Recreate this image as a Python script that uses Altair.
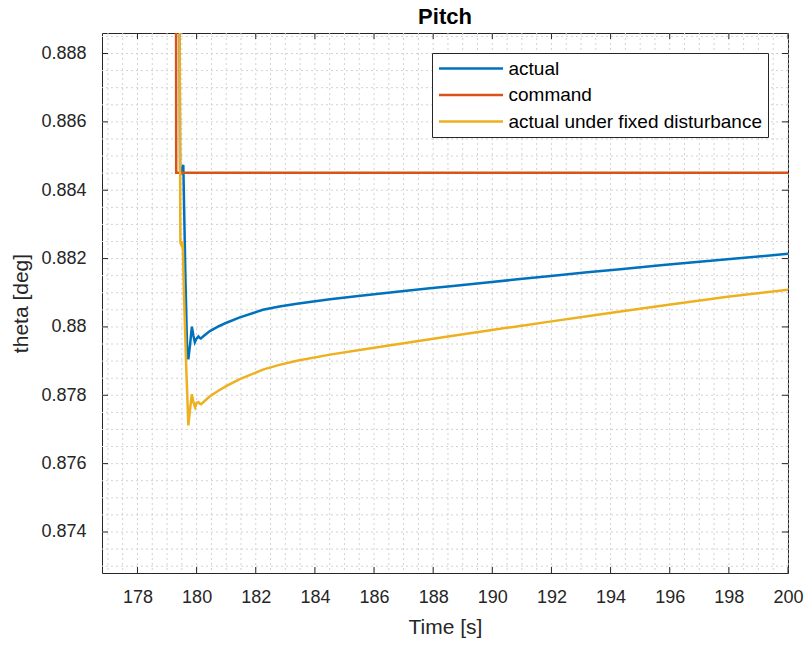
import altair as alt
import pandas as pd

# ---------------- data ----------------
series_names = ["actual", "command", "actual under fixed disturbance"]
series_colors = ["#0072BD", "#D95319", "#EDB120"]

actual_t = [179.40, 179.44, 179.47, 179.55, 179.62, 179.68, 179.72, 179.78, 179.84,
            179.89, 179.94, 179.99, 180.06, 180.10, 180.14, 180.30, 180.45, 180.75,
            181.03, 181.46, 182.24, 182.80, 183.39, 184.51, 185.62, 186.78, 187.89,
            188.67, 189.82, 190.94, 192.06, 193.21, 194.33, 195.78, 197.95, 200.00]
actual_v = [0.89500, 0.88460, 0.88452, 0.88474, 0.88150, 0.87930, 0.87905, 0.87950, 0.88001,
            0.87975, 0.87955, 0.87965, 0.87972, 0.87968, 0.87966, 0.87978, 0.87988, 0.88002,
            0.88013, 0.88028, 0.88050, 0.88060, 0.88068, 0.88081, 0.88092, 0.88103, 0.88113,
            0.88120, 0.88130, 0.88140, 0.88150, 0.88160, 0.88169, 0.88181, 0.88198, 0.88214]

command_t = [179.30, 179.31, 200.00]
command_v = [0.89500, 0.88451, 0.88451]

disturbed_t = [179.40, 179.45, 179.48, 179.53, 179.57, 179.65, 179.72, 179.78, 179.84,
               179.89, 179.95, 180.00, 180.06, 180.10, 180.15, 180.45, 180.75, 181.03,
               181.46, 182.24, 182.80, 183.39, 184.51, 185.62, 186.78, 187.89, 188.67,
               189.82, 190.94, 192.06, 193.21, 194.33, 195.78, 197.95, 200.00]
disturbed_v = [0.89500, 0.88246, 0.88240, 0.88250, 0.88100, 0.87880, 0.87712, 0.87760, 0.87803,
               0.87780, 0.87765, 0.87778, 0.87780, 0.87776, 0.87774, 0.87797, 0.87814, 0.87828,
               0.87847, 0.87875, 0.87889, 0.87901, 0.87919, 0.87934, 0.87949, 0.87964, 0.87974,
               0.87989, 0.88003, 0.88017, 0.88031, 0.88045, 0.88063, 0.88088, 0.88109]

x_ticks = [178, 180, 182, 184, 186, 188, 190, 192, 194, 196, 198, 200]
y_ticks = [0.874, 0.876, 0.878, 0.880, 0.882, 0.884, 0.886, 0.888]
x_grid = [177 + 0.5 * i for i in range(47)]
y_grid = [round(0.873 + 0.0005 * i, 4) for i in range(32)]

x_domain = [176.8, 200.0]
y_domain = [0.8728, 0.8886]

FONT = "Liberation Sans"
TXT = "#262626"

# ---------------- frames ----------------
rows = []
for name, ts, vs in [(series_names[0], actual_t, actual_v),
                     (series_names[1], command_t, command_v),
                     (series_names[2], disturbed_t, disturbed_v)]:
    for i, (t, v) in enumerate(zip(ts, vs)):
        rows.append({"series": name, "t": t, "v": v, "idx": i})
df = pd.DataFrame(rows)

xscale = alt.Scale(domain=x_domain, nice=False, zero=False)
yscale = alt.Scale(domain=y_domain, nice=False, zero=False)
cscale = alt.Scale(domain=series_names, range=series_colors)

legend = alt.Legend(
    title=None, orient="none", legendX=330, legendY=20,
    symbolType="stroke", symbolSize=4096, symbolStrokeWidth=2.5, symbolOpacity=1,
    clipHeight=20,
    labelFont=FONT, labelFontSize=19, labelColor="#000000", labelLimit=500,
    labelOffset=4, rowPadding=6.5, padding=5.5,
    strokeColor="#262626", fillColor="#ffffff",
)

xaxis = alt.Axis(values=x_ticks, title="Time [s]", format="d", labelFlush=False,
                 labelOverlap=False, labelPadding=15, titlePadding=10,
                 grid=False, ticks=False, domain=False)
yaxis = alt.Axis(values=y_ticks, title="theta [deg]", format=".3~f", labelFlush=False,
                 labelOverlap=False, labelPadding=16, titlePadding=9,
                 grid=False, ticks=False, domain=False)

X = lambda f: alt.X(f, scale=xscale, axis=xaxis)
Y = lambda f: alt.Y(f, scale=yscale, axis=yaxis)

grid_style = dict(color="#d2d2d2", strokeDash=[2, 3], strokeWidth=1)
x_grid_layer = alt.Chart(pd.DataFrame({"t": x_grid})).mark_rule(**grid_style).encode(x=X("t:Q"))
y_grid_layer = alt.Chart(pd.DataFrame({"v": y_grid})).mark_rule(**grid_style).encode(y=Y("v:Q"))


def line_layer(k):
    sub = df[df["series"] == series_names[k]]
    return alt.Chart(sub).mark_line(strokeWidth=2.5, clip=True).encode(
        x=X("t:Q"),
        y=Y("v:Q"),
        color=alt.Color("series:N", scale=cscale, legend=legend),
        order=alt.Order("idx:Q"),
    )


xt = pd.DataFrame({"t": x_ticks})
yt = pd.DataFrame({"v": y_ticks})
tick_color = "#262626"

bottom_ticks = alt.Chart(xt).mark_rule(color=tick_color, strokeWidth=1).encode(
    x=X("t:Q"), y=alt.value(540), y2=alt.value(534))
top_ticks = alt.Chart(xt).mark_rule(color=tick_color, strokeWidth=1).encode(
    x=X("t:Q"), y=alt.value(0), y2=alt.value(6))
left_ticks = alt.Chart(yt).mark_rule(color=tick_color, strokeWidth=1).encode(
    y=Y("v:Q"), x=alt.value(0), x2=alt.value(6))
right_ticks = alt.Chart(yt).mark_rule(color=tick_color, strokeWidth=1).encode(
    y=Y("v:Q"), x=alt.value(686), x2=alt.value(680))

chart = alt.layer(
    x_grid_layer, y_grid_layer,
    line_layer(0), line_layer(1), line_layer(2),
    bottom_ticks, top_ticks, left_ticks, right_ticks,
).properties(
    width=686, height=540,
    title=alt.TitleParams("Pitch", font=FONT, fontSize=22, fontWeight="bold",
                          color="#000000", anchor="middle", offset=4),
    autosize=alt.AutoSizeParams(type="none"),
    padding={"left": 102, "top": 33, "right": 24, "bottom": 72},
).configure_view(
    stroke="#262626", strokeWidth=1,
).configure_axis(
    labelFont=FONT, labelFontSize=18, labelColor=TXT,
    titleFont=FONT, titleFontSize=21, titleFontWeight="normal", titleColor=TXT,
)

chart.save("out.html", embed_options={"renderer": "svg", "actions": False})
